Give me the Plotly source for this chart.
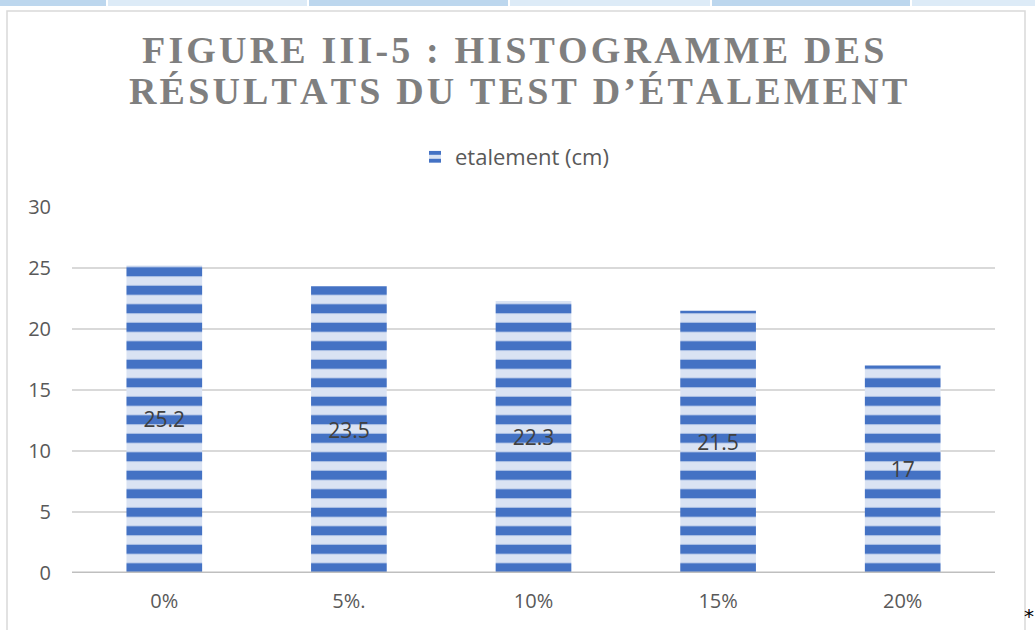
import plotly.graph_objects as go

categories = ["0%", "5%.", "10%", "15%", "20%"]
etalement = [25.2, 23.5, 22.3, 21.5, 17]
y_ticks = [0, 5, 10, 15, 20, 25, 30]

title_lines = ["FIGURE III-5 : HISTOGRAMME DES", "RÉSULTATS DU TEST D’ÉTALEMENT"]

def spaced(s):
    return "\u200a".join(s)

W, H = 1035, 630
L, R, T, B = 72, 40, 207, 57
pw, ph = W - L - R, H - T - B

def px_x(x):
    return (x - L) / pw

def px_y(y):
    return (H - B - y) / ph

SANS = "Open Sans, Calibri, sans-serif"

fig = go.Figure()
fig.add_trace(go.Bar(
    x=categories, y=etalement, name="etalement (cm)",
    marker=dict(color="#DAE3F3", line=dict(width=0),
                pattern=dict(shape="-", fgcolor="#4472C4", fgopacity=1,
                             fillmode="overlay", size=18.5, solidity=0.5)),
    text=etalement, texttemplate="%{y}", textposition="inside",
    insidetextanchor="middle",
    textfont=dict(family=SANS, size=21, color="#404040"),
    showlegend=True,
))

shapes = []
strip = [(0, 106, "#BDD7EE"), (108, 307, "#DDEBF7"), (309, 508, "#BDD7EE"),
         (510, 710, "#DDEBF7"), (712, 910, "#BDD7EE"), (912, 1035, "#DDEBF7")]
for a, b, c in strip:
    shapes.append(dict(type="rect", xref="paper", yref="paper",
                       x0=px_x(a), x1=px_x(b), y0=px_y(6), y1=px_y(0),
                       fillcolor=c, line=dict(width=0), layer="below"))
shapes.append(dict(type="rect", xref="paper", yref="paper",
                   x0=px_x(7), x1=px_x(1025), y0=px_y(640), y1=px_y(11),
                   line=dict(color="#D9D9D9", width=1.5), fillcolor="rgba(0,0,0,0)",
                   layer="below"))
shapes.append(dict(type="line", xref="paper", yref="y", x0=0, x1=1, y0=0, y1=0,
                   line=dict(color="#BFBFBF", width=3), layer="above"))

title_font = dict(family="Liberation Serif, Times New Roman, serif",
                  size=38, color="#7F7F7F", weight="bold")
annotations = []
for line, yc, xc in zip(title_lines, [50, 91], [513, 518]):
    annotations.append(dict(text=spaced(line), xref="paper", yref="paper",
                            x=px_x(xc), y=px_y(yc), xanchor="center", yanchor="middle",
                            showarrow=False, font=title_font))
annotations.append(dict(text="*", xref="paper", yref="paper", x=px_x(1022), y=px_y(616),
                        showarrow=False, xanchor="left", yanchor="middle",
                        font=dict(family="DejaVu Sans", size=20, color="#000000")))

fig.update_layout(
    width=W, height=H,
    margin=dict(l=L, r=R, t=T, b=B),
    paper_bgcolor="white", plot_bgcolor="white",
    bargap=0.59,
    legend=dict(orientation="h", x=px_x(415), xanchor="left", y=px_y(157), yanchor="middle",
                font=dict(family=SANS, size=22, color="#595959"),
                itemwidth=30),
    xaxis=dict(showgrid=False, showline=False, ticks="",
               ticklabelstandoff=14,
               tickfont=dict(family=SANS, size=20, color="#595959")),
    yaxis=dict(range=[0, 30], tickvals=y_ticks, showgrid=True, gridcolor="#D9D9D9",
               gridwidth=1.5, zeroline=False, showline=False, ticks="",
               ticklabelstandoff=20,
               tickfont=dict(family=SANS, size=20, color="#595959")),
    shapes=shapes,
    annotations=annotations,
)

fig.write_html("out.html", config={"displayModeBar": False},
               post_script="document.body.style.margin='0';document.body.style.overflow='hidden';")
